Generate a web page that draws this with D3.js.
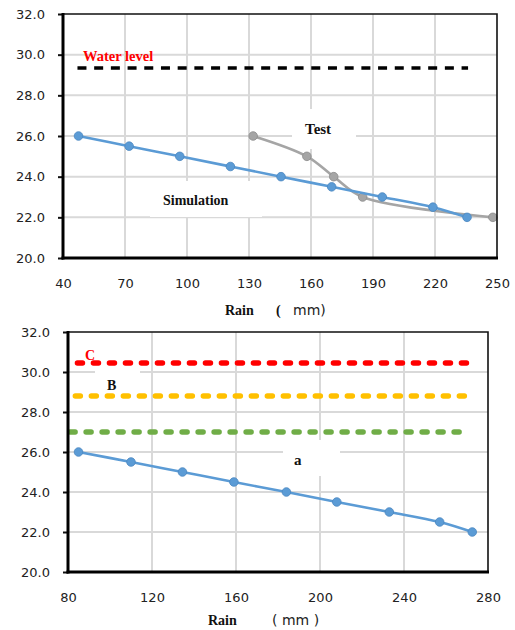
<!DOCTYPE html>
<html><head><meta charset="utf-8">
<script src="https://cdn.jsdelivr.net/npm/d3@7"></script>
<style>body{margin:0;background:#fff}</style>
</head><body>
<svg id="c" width="515" height="630"></svg>
<script>
// ---- data ----
const yTicks = [20, 22, 24, 26, 28, 30, 32];
const topXTicks = [40, 70, 100, 130, 160, 190, 220, 250];
const topSimRain = [47.5, 72, 96.5, 121, 145.5, 170, 194.5, 219, 235.5];
const topSimLevel = [26.0, 25.5, 25.0, 24.5, 24.0, 23.5, 23.0, 22.5, 22.0];
const topTestRain = [132, 158, 171, 185, 248];
const topTestLevel = [26.0, 25.0, 24.0, 23.0, 22.0];
const waterLevelValue = 29.35;
const waterLevelRain = [47, 236];

const botXTicks = [80, 120, 160, 200, 240, 280];
const botRain = [85, 110, 134.5, 159, 184, 208, 233, 257, 272.5];
const botLevel = [26.0, 25.5, 25.0, 24.5, 24.0, 23.5, 23.0, 22.5, 22.0];
const thresholdNames = ["C", "B", "A"];
const thresholdValues = [30.45, 28.8, 27.0];
const thresholdRain = [[84.5, 273.5], [83.5, 272.5], [81, 270.5]];

// ---- drawing ----
const svg = d3.select("#c");
const numFont = "'DejaVu Sans', Verdana, sans-serif";
const serif = "'Liberation Serif', 'Times New Roman', serif";

function frame(g, x, y, xTicks) {
  g.append("g").selectAll("line").data(yTicks.slice(1, -1)).join("line")
    .attr("x1", x.range()[0]).attr("x2", x.range()[1])
    .attr("y1", d => y(d)).attr("y2", d => y(d))
    .attr("stroke", "#d9d9d9").attr("stroke-width", 2);
  g.append("g").selectAll("line").data(xTicks.slice(1, -1)).join("line")
    .attr("y1", y.range()[0]).attr("y2", y.range()[1])
    .attr("x1", d => x(d)).attr("x2", d => x(d))
    .attr("stroke", "#d9d9d9").attr("stroke-width", 2);
}
function axes(g, x, y, xTicks) {
  const [x0, x1] = x.range(), [y0, y1] = y.range();
  g.append("path").attr("d", `M${x0},${y1}H${x1}V${y0}`).attr("fill", "none")
    .attr("stroke", "#111").attr("stroke-width", 1.6);
  const ya = g.append("g").attr("transform", `translate(${x0},0)`)
    .call(d3.axisLeft(y).tickValues(yTicks).tickFormat(d3.format(".1f")).tickSize(5).tickPadding(13));
  ya.select(".domain").remove();
  ya.selectAll(".tick line").attr("stroke", "#111").attr("stroke-width", 2);
  ya.selectAll("text").attr("font-family", numFont).attr("font-size", 13).attr("fill", "#222");
  const xa = g.append("g").attr("transform", `translate(0,${y0})`)
    .call(d3.axisBottom(x).tickValues(xTicks).tickSize(0).tickPadding(21));
  xa.select(".domain").remove();
  xa.selectAll("text").attr("font-family", numFont).attr("font-size", 13).attr("fill", "#222");
  g.append("line").attr("x1", x0).attr("x2", x0).attr("y1", y1 - 1).attr("y2", y0 + 1.5)
    .attr("stroke", "#000").attr("stroke-width", 3);
  g.append("line").attr("x1", x0 - 1.5).attr("x2", x1 + 1).attr("y1", y0).attr("y2", y0)
    .attr("stroke", "#000").attr("stroke-width", 3);
}
function whiteBox(g, x, y, w, h) {
  g.append("rect").attr("x", x).attr("y", y).attr("width", w).attr("height", h).attr("fill", "#fff");
}
function series(g, x, y, xs, ys, color, stroke) {
  const pts = xs.map((d, i) => [d, ys[i]]);
  g.append("path").datum(pts)
    .attr("d", d3.line().x(d => x(d[0])).y(d => y(d[1])).curve(d3.curveCatmullRom.alpha(0.5)))
    .attr("fill", "none").attr("stroke", color).attr("stroke-width", 2.6);
  g.append("g").selectAll("circle").data(pts).join("circle")
    .attr("cx", d => x(d[0])).attr("cy", d => y(d[1])).attr("r", 4.3)
    .attr("fill", color).attr("stroke", stroke).attr("stroke-width", 0.8);
}
function label(g, txt, x, y, size, color, weight) {
  g.append("text").attr("x", x).attr("y", y).text(txt)
    .attr("font-family", serif).attr("font-size", size).attr("font-weight", weight || "bold")
    .attr("fill", color);
}

// ---------- top chart ----------
{
  const g = svg.append("g");
  const x = d3.scaleLinear().domain([40, 250]).range([63, 497]);
  const y = d3.scaleLinear().domain([20, 32]).range([258, 14]);
  frame(g, x, y, topXTicks);
  whiteBox(g, 150, 181, 112, 36);
  whiteBox(g, 292, 109, 64, 40);
  g.append("line").attr("x1", x(waterLevelRain[0])).attr("x2", x(waterLevelRain[1]))
    .attr("y1", y(waterLevelValue)).attr("y2", y(waterLevelValue))
    .attr("stroke", "#000").attr("stroke-width", 3.5).attr("stroke-dasharray", "9,7.7");
  series(g, x, y, topTestRain, topTestLevel, "#a5a5a5", "#8a8a8a");
  series(g, x, y, topSimRain, topSimLevel, "#5b9bd5", "#4a86c0");
  axes(g, x, y, topXTicks);
  label(g, "Water level", 83, 61, 14.5, "#ff0000");
  label(g, "Test", 305, 134, 15, "#111");
  label(g, "Simulation", 163, 205, 14, "#111");
  label(g, "Rain", 225, 315, 14, "#111");
  label(g, "(", 276, 315, 14, "#111");
  g.append("text").attr("x", 293).attr("y", 315).text("mm)")
    .attr("font-family", numFont).attr("font-size", 14).attr("fill", "#222");
}

// ---------- bottom chart ----------
{
  const g = svg.append("g");
  const x = d3.scaleLinear().domain([80, 280]).range([68, 488]);
  const y = d3.scaleLinear().domain([20, 32]).range([572, 332]);
  const colors = ["#ff0000", "#ffc000", "#70ad47"];
  frame(g, x, y, botXTicks);
  whiteBox(g, 95, 366, 45, 30);
  whiteBox(g, 283, 440, 57, 36);
  thresholdValues.forEach((v, i) => {
    g.append("line").attr("x1", x(thresholdRain[i][0])).attr("x2", x(thresholdRain[i][1]))
      .attr("y1", y(v)).attr("y2", y(v))
      .attr("stroke", colors[i]).attr("stroke-width", 5.5)
      .attr("stroke-linecap", "round").attr("stroke-dasharray", "5,11");
  });
  series(g, x, y, botRain, botLevel, "#5b9bd5", "#4a86c0");
  axes(g, x, y, botXTicks);
  label(g, thresholdNames[0], 85, 360, 14, "#ff0000");
  label(g, thresholdNames[1], 107, 390, 14, "#111");
  label(g, thresholdNames[2].toLowerCase(), 294, 465, 15, "#111");
  label(g, "Rain", 208, 625, 14, "#111");
  g.append("text").attr("x", 272).attr("y", 625).text("( mm )")
    .attr("font-family", numFont).attr("font-size", 14).attr("fill", "#222");
}
</script>
</body></html>
